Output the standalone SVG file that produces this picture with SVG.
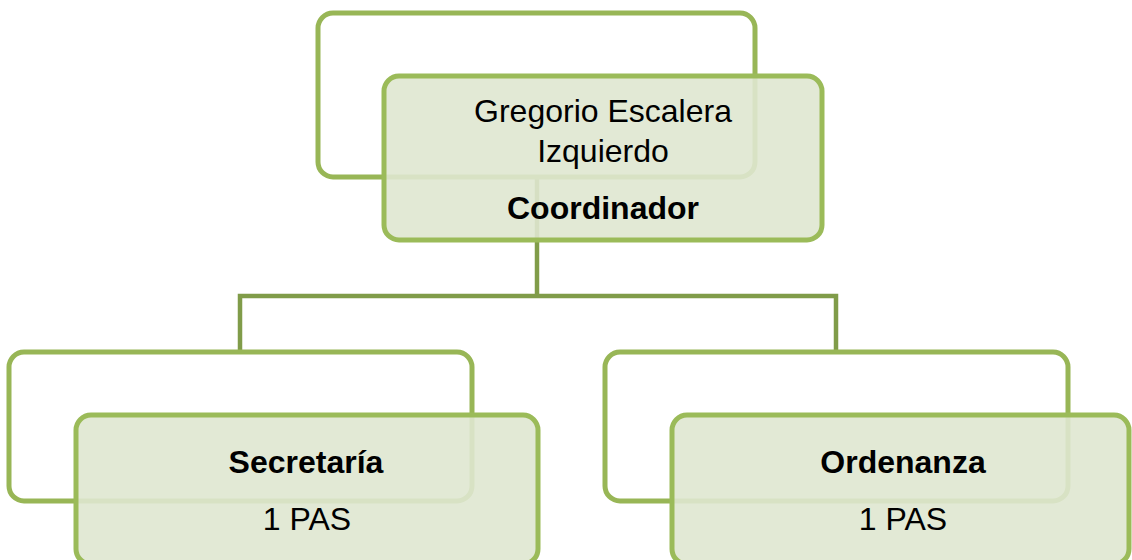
<svg xmlns="http://www.w3.org/2000/svg" width="1132" height="560" viewBox="0 0 1132 560">
  <style>
    .back { fill: #ffffff; stroke: #98b656; stroke-width: 5; }
    .front { fill: #dfe7d0; fill-opacity: 0.9; stroke: #9bbb59; stroke-width: 5; }
    .conn { fill: none; stroke: #809c49; stroke-width: 4.5; }
    .t { font-family: "Liberation Sans", Arial, sans-serif; font-size: 32px; fill: #000000; text-anchor: middle; }
    .b { font-weight: bold; }
  </style>
  <rect x="0" y="0" width="1132" height="560" fill="#ffffff"/>
  <g id="connectors">
    <path class="conn" d="M537,177 V296"/>
    <path class="conn" d="M240,352 V296 H836 V352"/>
  </g>
  <g id="node-coordinador">
    <rect class="back" x="318" y="13" width="437" height="164" rx="15"/>
    <rect class="front" x="384" y="76" width="438" height="164" rx="15"/>
    <text class="t" x="603" y="122">Gregorio Escalera</text>
    <text class="t" x="603" y="162">Izquierdo</text>
    <text class="t b" x="603" y="219">Coordinador</text>
  </g>
  <g id="node-secretaria">
    <rect class="back" x="9" y="352" width="463" height="149" rx="15"/>
    <rect class="front" x="76" y="415" width="462" height="149" rx="15"/>
    <text class="t b" x="306" y="473">Secretaría</text>
    <text class="t" x="307" y="530">1 PAS</text>
  </g>
  <g id="node-ordenanza">
    <rect class="back" x="605" y="352" width="463" height="149" rx="15"/>
    <rect class="front" x="672" y="415" width="457" height="149" rx="15"/>
    <text class="t b" x="903" y="473">Ordenanza</text>
    <text class="t" x="903" y="530">1 PAS</text>
  </g>
</svg>
